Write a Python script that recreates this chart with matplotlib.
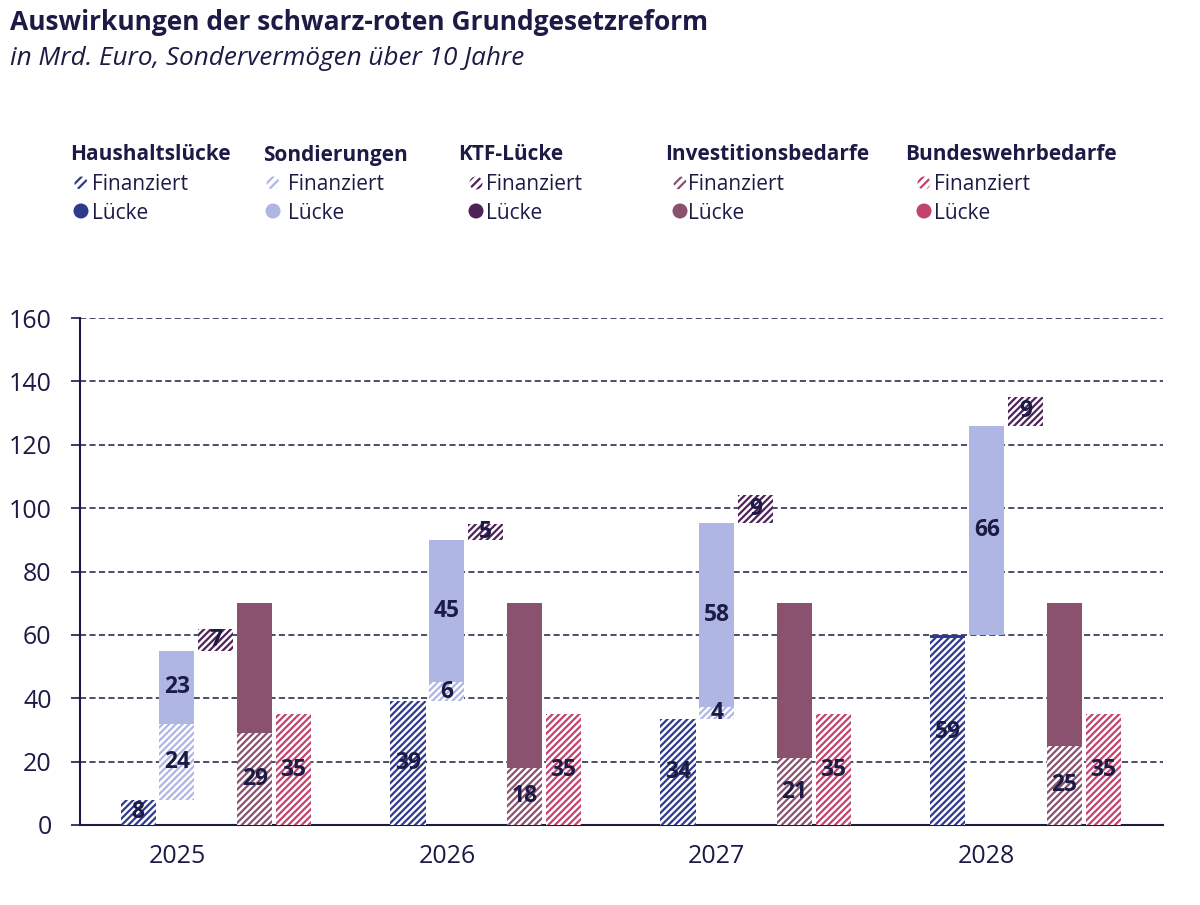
import matplotlib
matplotlib.use('Agg')
import matplotlib.pyplot as plt
import numpy as np
from matplotlib.patches import Circle

plt.rcParams['font.family'] = ['Open Sans', 'DejaVu Sans']
plt.rcParams['hatch.linewidth'] = 1.6

## data (Mrd. Euro)
years = ['2025', '2026', '2027', '2028']
groups = ['Haushaltslücke', 'Sondierungen', 'KTF-Lücke', 'Investitionsbedarfe', 'Bundeswehrbedarfe']
haushalt_fin = [8, 39, 33.6, 59]
haushalt_luecke = [0, 0, 0, 1]
sond_fin = [24, 6, 3.7, 0]
sond_luecke = [23, 45, 58, 66]
ktf_fin = [7, 5, 9, 9]
ktf_luecke = [0, 0, 0, 0]
invest_fin = [29, 18, 21, 25]
invest_luecke = [41, 52, 49, 45]
bw_fin = [35, 35, 35, 35]
bw_luecke = [0, 0, 0, 0]

colors = ['#2f3a8f', '#b0b6e4', '#4e2157', '#8a526e', '#c3436f']
txt = '#1b1b45'

fin = [haushalt_fin, sond_fin, ktf_fin, invest_fin, bw_fin]
luecke = [haushalt_luecke, sond_luecke, ktf_luecke, invest_luecke, bw_luecke]
# which lücke segments carry a value label
label_luecke = [False, True, False, False, False]
# first three groups are stacked on each other, the rest start at zero
stacked = [True, True, True, False, False]

fig = plt.figure(figsize=(12, 9.05), dpi=100)
ax = fig.add_axes([0.0667, 0.0884, 0.9023, 0.5602])

x = np.arange(len(years))
step = 0.144
width = 0.13
base = np.zeros(len(years))
for g in range(len(groups)):
    f = np.array(fin[g], dtype=float)
    l = np.array(luecke[g], dtype=float)
    bottom = base.copy() if stacked[g] else np.zeros(len(years))
    xpos = x + (g - 1) * step
    ax.bar(xpos, f, width, bottom=bottom, color='white', edgecolor=colors[g],
           hatch='/////', linewidth=0, zorder=3)
    ax.bar(xpos, l, width, bottom=bottom + f, color=colors[g], linewidth=0, zorder=3)
    for i in range(len(years)):
        if f[i] > 0:
            ax.text(xpos[i], bottom[i] + f[i] / 2, str(int(round(f[i]))), ha='center', va='center',
                    fontsize=16.5, fontweight='bold', color=txt, zorder=5)
        if label_luecke[g] and l[i] > 0:
            ax.text(xpos[i], bottom[i] + f[i] + l[i] / 2, str(int(round(l[i]))), ha='center',
                    va='center', fontsize=16.5, fontweight='bold', color=txt, zorder=5)
    if stacked[g]:
        base = bottom + f + l

ax.set_xlim(-0.359, 3.652)
ax.set_ylim(0, 160)
ax.set_yticks(np.arange(0, 161, 20))
ax.set_xticks(x)
ax.set_xticklabels(years)
ax.yaxis.grid(True, linestyle=(0, (4, 2.2)), color=txt, linewidth=1.1, zorder=0)
ax.set_axisbelow(True)
for s in ['top', 'right']:
    ax.spines[s].set_visible(False)
for s in ['left', 'bottom']:
    ax.spines[s].set_color(txt)
    ax.spines[s].set_linewidth(1.5)
ax.tick_params(axis='y', length=6.5, width=1.2, color=txt, labelcolor=txt, labelsize=18, pad=14)
ax.tick_params(axis='x', length=0, labelcolor=txt, labelsize=18, pad=14)

## title
fig.text(0.008, 0.975, 'Auswirkungen der schwarz-roten Grundgesetzreform', fontsize=19,
         fontweight='bold', color=txt, va='center', ha='left')
fig.text(0.008, 0.935, 'in Mrd. Euro, Sondervermögen über 10 Jahre', fontsize=18.8,
         fontstyle='italic', color=txt, va='center', ha='left')

## legend drawn in pixel coordinates
lax = fig.add_axes([0, 0, 1, 1], zorder=10)
lax.set_xlim(0, 1200)
lax.set_ylim(905, 0)
lax.axis('off')
head_x = [70, 263, 458, 665, 905]
mark_x = [81, 273, 476, 680, 924]
text_x = [92, 288, 486, 688, 934]
for g in range(len(groups)):
    lax.text(head_x[g], 155, groups[g], fontsize=15, fontweight='bold', color=txt,
             va='center', ha='left')
    lax.add_patch(Circle((mark_x[g], 183), 6.5, facecolor='white', edgecolor=colors[g],
                         hatch='////', linewidth=0))
    lax.text(text_x[g], 184, 'Finanziert', fontsize=15, color=txt, va='center', ha='left')
    lax.add_patch(Circle((mark_x[g], 211), 7.5, facecolor=colors[g], linewidth=0))
    lax.text(text_x[g], 213, 'Lücke', fontsize=15, color=txt, va='center', ha='left')

plt.savefig('out.png', dpi=100)
